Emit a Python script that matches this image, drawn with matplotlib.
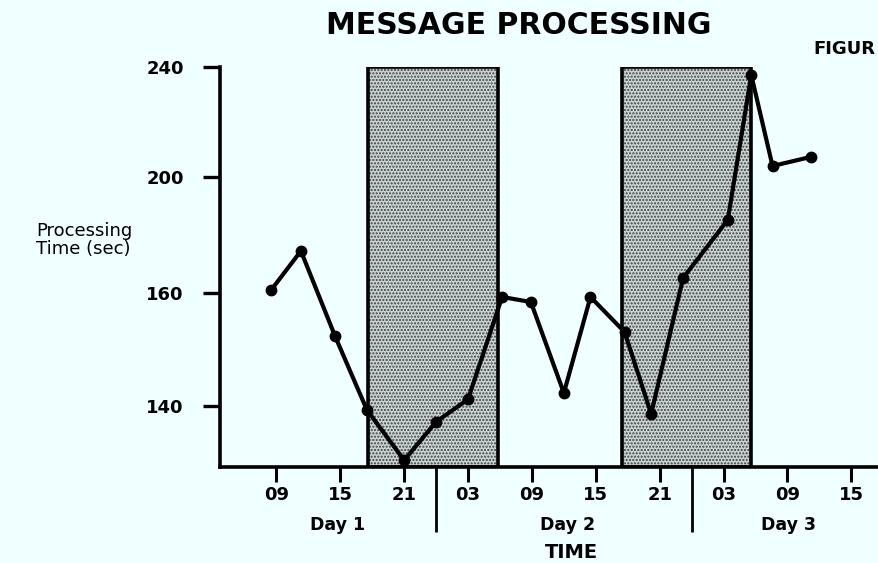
import numpy as np
import matplotlib.pyplot as plt
from matplotlib.transforms import blended_transform_factory

# readings (hour counted from Day 1 00:00)
hours = [8.5, 11.3, 14.5, 17.5, 21.0, 24.0, 27.0, 30.2, 32.9, 36.0,
         38.5, 41.7, 44.2, 47.2, 51.4, 53.6, 55.6, 59.2]
proc_time = [161.0, 174.5, 152.4, 139.3, 130.4, 137.2, 141.2, 159.3, 158.4, 142.3,
             159.3, 153.1, 138.6, 165.2, 185.2, 237.1, 204.0, 207.3]

night_start = [17.6, 41.5]
night_end = [29.8, 53.6]

hour_ticks = [9, 15, 21, 27, 33, 39, 45, 51, 57, 63]
hour_labels = ['09', '15', '21', '03', '09', '15', '21', '03', '09', '15']
day_breaks = [24, 48]
day_names = ['Day 1', 'Day 2', 'Day 3']
day_label_x = [14.7, 36.3, 57.1]

y_ticks = [140, 160, 200, 240]

# the printed y axis is not evenly spaced: piecewise-linear scale through the ticks
knot_val = np.array([0.0, 129.2, 140, 160, 200, 240, 1000])
knot_pos = np.array([-730.0, 0, 61, 174, 290, 400, 2490])

def fwd(v):
    return np.interp(v, knot_val, knot_pos)

def inv(p):
    return np.interp(p, knot_pos, knot_val)


bg = '#f0ffff'
fig = plt.figure(figsize=(8.79, 5.63), dpi=100, facecolor=bg)
ax = fig.add_axes([220 / 879, 96 / 563, 659 / 879, 400 / 563], facecolor=bg)
ax.set_yscale('function', functions=(fwd, inv))
ax.set_xlim(3.7, 65.6)
ax.set_ylim(129.2, 240)

# shaded night periods
for s, e in zip(night_start, night_end):
    ax.bar(s, 240 - 129.2, bottom=129.2, width=e - s, align='edge',
           color='#c9d1d1', edgecolor='#3c4242', hatch='.....', linewidth=0, zorder=1)
    ax.bar(s, 240 - 129.2, bottom=129.2, width=e - s, align='edge',
           fill=False, edgecolor='black', linewidth=2.6, zorder=2)

ax.plot(hours, proc_time, color='black', lw=3, marker='o', ms=7.5, zorder=3,
        clip_on=False)

for side in ['top', 'right']:
    ax.spines[side].set_visible(False)
for side in ['left', 'bottom']:
    ax.spines[side].set_linewidth(2.6)

ax.set_yticks(y_ticks)
ax.set_yticklabels([str(v) for v in y_ticks], fontweight='bold')
ax.yaxis.set_minor_locator(plt.NullLocator())
ax.tick_params(axis='y', length=12, width=2.4, pad=14, labelsize=13)

ax.set_xticks(hour_ticks)
ax.set_xticklabels(hour_labels, fontweight='bold')
ax.set_xticks(day_breaks, minor=True)
ax.tick_params(axis='x', which='major', length=11, width=2.2, pad=3, labelsize=13)
ax.tick_params(axis='x', which='minor', length=47, width=2.0)

trans = blended_transform_factory(ax.transData, ax.transAxes)
for x, name in zip(day_label_x, day_names):
    ax.text(x, -0.145, name, transform=trans, ha='center', va='center',
            fontsize=12.5, fontweight='bold')

fig.text(571 / 879, 1 - 553 / 563, 'TIME', ha='center', va='center',
         fontsize=14, fontweight='bold')
fig.text(519 / 879, 1 - 26 / 563, 'MESSAGE PROCESSING', ha='center', va='center',
         fontsize=21.5, fontweight='bold')
fig.text(813 / 879, 1 - 49 / 563, 'FIGUR', ha='left', va='center',
         fontsize=13, fontweight='bold')
fig.text(36 / 879, 1 - 240 / 563, 'Processing\nTime (sec)', ha='left', va='center',
         fontsize=13, linespacing=1.0)

fig.savefig('out.png', dpi=100, facecolor=bg)
